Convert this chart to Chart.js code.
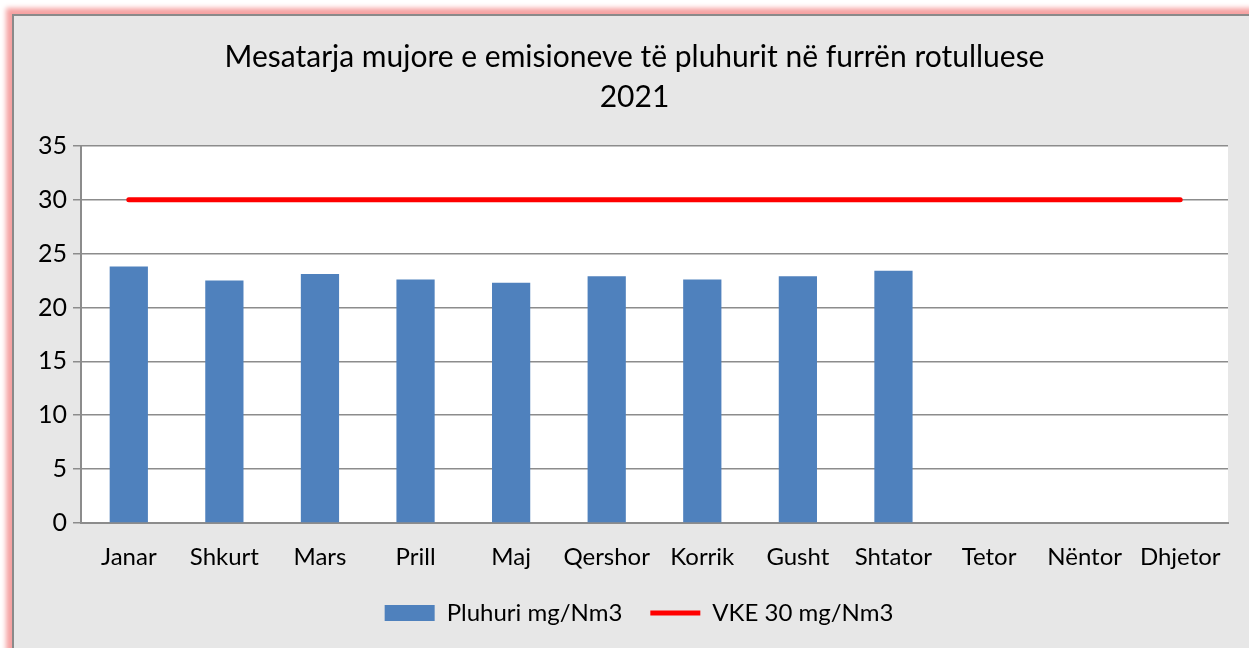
<!DOCTYPE html>
<html>
<head>
<meta charset="utf-8">
<script src="https://cdn.jsdelivr.net/npm/chart.js@4.4.1/dist/chart.umd.min.js"></script>
<style>
  html, body { margin: 0; padding: 0; background: #ffffff; overflow: hidden; }
  #frame {
    position: absolute; left: 12px; top: 14px; width: 1260px; height: 660px;
    background: #e7e7e7;
    border-left: 2px solid #8a8a8a; border-top: 2px solid #8a8a8a;
    box-shadow: -3px -3px 5px 3px #f6a3a3;
  }
  #wrap { position: absolute; left: 0; top: 0; width: 1249px; height: 648px; }
</style>
</head>
<body>
<div id="frame"></div>
<div id="wrap"><canvas id="dust-chart" width="1249" height="648"></canvas></div>
<script>
  // values
  const months = ['Janar', 'Shkurt', 'Mars', 'Prill', 'Maj', 'Qershor', 'Korrik', 'Gusht', 'Shtator', 'Tetor', 'Nëntor', 'Dhjetor'];
  const dustValues = [23.8, 22.5, 23.1, 22.6, 22.3, 22.9, 22.6, 22.9, 23.4, null, null, null];
  const limitValues = [30, 30, 30, 30, 30, 30, 30, 30, 30, 30, 30, 30];
  const yTicks = [0, 5, 10, 15, 20, 25, 30, 35];
  const titleLines = ['Mesatarja mujore e emisioneve të pluhurit në furrën rotulluese', '2021'];

  const fontFamily = 'Lato, "Open Sans", sans-serif';
  const gridColor = '#8c8c8c';

  const plotBackground = {
    id: 'plotBackground',
    beforeDraw: (chart) => {
      const { ctx, chartArea } = chart;
      ctx.save();
      ctx.fillStyle = '#ffffff';
      ctx.fillRect(chartArea.left, chartArea.top, chartArea.right - chartArea.left, chartArea.bottom - chartArea.top);
      ctx.restore();
    },
  };

  // title and legend sit a little right of the canvas centre in the original
  const nudgeBlocks = {
    id: 'nudgeBlocks',
    afterLayout: (chart) => {
      if (chart.titleBlock) chart.titleBlock.left += 27;
      if (chart.legend) chart.legend.left += 36;
    },
  };

  new Chart(document.getElementById('dust-chart'), {
    type: 'bar',
    data: {
      labels: months,
      datasets: [
        {
          label: 'Pluhuri mg/Nm3',
          data: dustValues,
          backgroundColor: '#4f81bd',
          borderWidth: 0,
          barPercentage: 0.4,
          categoryPercentage: 1,
          pointStyle: 'rect',
        },
        {
          type: 'line',
          label: 'VKE 30 mg/Nm3',
          data: limitValues,
          borderColor: '#ff0000',
          backgroundColor: '#ff0000',
          borderWidth: 5,
          borderCapStyle: 'round',
          pointRadius: 0,
          pointStyle: 'line',
        },
      ],
    },
    options: {
      responsive: false,
      animation: false,
      layout: { padding: { left: 14, right: 21, top: 14, bottom: 13 } },
      plugins: {
        title: {
          display: true,
          text: titleLines,
          color: '#000000',
          font: { family: fontFamily, size: 30, weight: 'normal', lineHeight: 1.33 },
          padding: { top: 23, bottom: 29 },
        },
        legend: {
          position: 'bottom',
          labels: {
            usePointStyle: true,
            pointStyleWidth: 50,
            boxWidth: 50,
            boxHeight: 16,
            color: '#000000',
            padding: 28,
            font: { family: fontFamily, size: 24 },
          },
        },
        tooltip: { enabled: false },
      },
      scales: {
        x: {
          grid: { display: false, drawTicks: false },
          border: { display: true, color: gridColor, width: 2 },
          ticks: { color: '#000000', padding: 20, maxRotation: 0, font: { family: fontFamily, size: 24 } },
          afterFit: (scale) => { scale.height = 50; },
        },
        y: {
          min: 0,
          max: 35,
          afterBuildTicks: (scale) => { scale.ticks = yTicks.map((v) => ({ value: v })); },
          grid: { color: gridColor, lineWidth: 1.5, tickLength: 8 },
          border: { display: true, color: gridColor, width: 2 },
          ticks: { color: '#000000', padding: 6, font: { family: fontFamily, size: 25 } },
          afterFit: (scale) => { scale.width = 67; },
        },
      },
    },
    plugins: [plotBackground, nudgeBlocks],
  });
</script>
</body>
</html>
